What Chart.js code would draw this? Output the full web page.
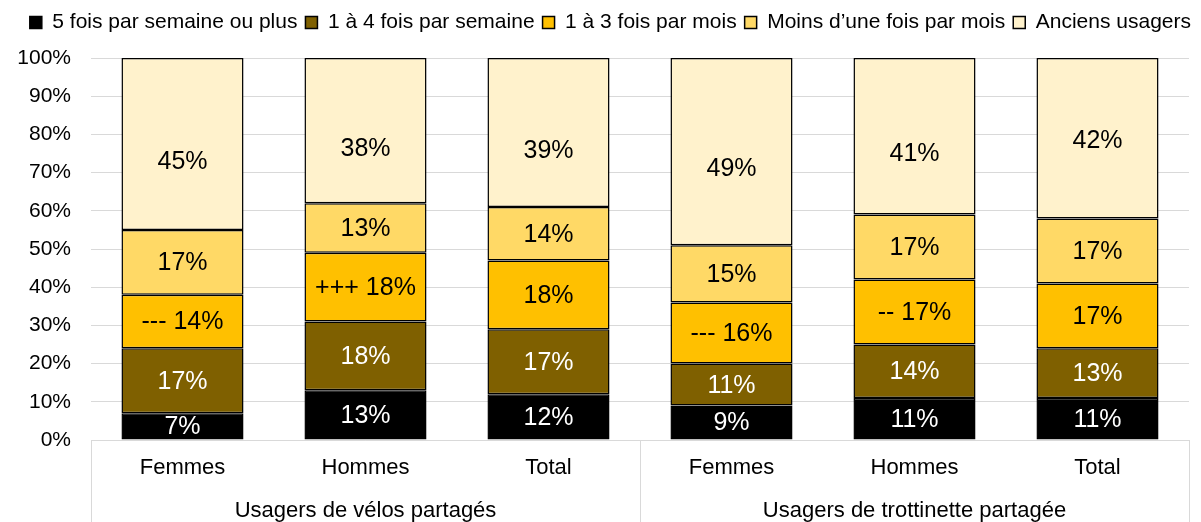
<!DOCTYPE html>
<html>
<head>
<meta charset="utf-8">
<script src="https://cdn.jsdelivr.net/npm/chart.js@4/dist/chart.umd.min.js"></script>
<style>
  html, body { margin: 0; padding: 0; background: #fff; }
  #wrap { width: 1201px; height: 522px; position: relative; }
</style>
</head>
<body>
<div id="wrap"><canvas id="chart"></canvas></div>
<script>
const categories = ["Femmes", "Hommes", "Total", "Femmes", "Hommes", "Total"];
const groups = ["Usagers de vélos partagés", "Usagers de trottinette partagée"];
const seriesNames = ["5 fois par semaine ou plus", "1 à 4 fois par semaine", "1 à 3 fois par mois", "Moins d’une fois par mois", "Anciens usagers"];

const fivePlus = [7, 13, 12, 9, 11, 11];
const oneToFourWeek = [17, 18, 17, 11, 14, 13];
const oneToThreeMonth = [14, 18, 18, 16, 17, 17];
const lessThanMonthly = [17, 13, 14, 15, 17, 17];
const former = [45, 38, 39, 49, 41, 42];

// significance marks shown before some values
const monthPrefix = ["---", "+++", "", "---", "--", ""];

const yTicks = [0, 10, 20, 30, 40, 50, 60, 70, 80, 90, 100];

const colors = ["#000000", "#7F6000", "#FFC000", "#FFD966", "#FFF2CC"];
const labelColors = ["#ffffff", "#ffffff", "#000000", "#000000", "#000000"];
const allSeries = [fivePlus, oneToFourWeek, oneToThreeMonth, lessThanMonthly, former];
const prefixes = [null, null, monthPrefix, null, null];
// in the source the labels of the top segment sit a bit below the middle
const topLabelShift = [17, 18, 18, 17, 17, 2];

const FONT = "'Liberation Sans', Arial, sans-serif";

const datasets = allSeries.map((vals, i) => ({
  label: seriesNames[i],
  data: vals,
  backgroundColor: colors[i],
  borderColor: "#000000",
  borderWidth: 1.5,
  borderSkipped: false,
  categoryPercentage: 1,
  barPercentage: 0.667
}));

// draw value labels in the middle of each segment
const valueLabels = {
  id: "valueLabels",
  afterDatasetsDraw(chart) {
    const ctx = chart.ctx;
    const last = chart.data.datasets.length - 1;
    ctx.save();
    ctx.font = "25px " + FONT;
    ctx.textAlign = "center";
    ctx.textBaseline = "middle";
    chart.data.datasets.forEach((ds, i) => {
      const meta = chart.getDatasetMeta(i);
      meta.data.forEach((bar, j) => {
        let txt = ds.data[j] + "%";
        if (prefixes[i] && prefixes[i][j]) txt = prefixes[i][j] + " " + txt;
        const shift = i === last ? topLabelShift[j] : 0;
        ctx.fillStyle = labelColors[i];
        ctx.fillText(txt, bar.x, (bar.y + bar.base) / 2 + 1 + shift);
      });
    });
    ctx.restore();
  }
};

// vertical separators of the two-level category axis
const groupLines = {
  id: "groupLines",
  afterDraw(chart) {
    const x = chart.scales.x;
    const ctx = chart.ctx;
    const mid = (x.getPixelForValue(2) + x.getPixelForValue(3)) / 2;
    ctx.save();
    ctx.strokeStyle = "#d9d9d9";
    ctx.lineWidth = 1;
    [x.left, mid, x.right].forEach(px => {
      ctx.beginPath();
      ctx.moveTo(Math.round(px) + 0.5, chart.chartArea.bottom);
      ctx.lineTo(Math.round(px) + 0.5, chart.height);
      ctx.stroke();
    });
    ctx.restore();
  }
};

// extra room under the legend, and push it a little to the right
const legendGap = {
  id: "legendGap",
  beforeInit(chart) {
    const lg = chart.legend;
    const fit = lg.fit;
    const draw = lg.draw;
    lg.fit = function () {
      fit.call(lg);
      lg.height += 15;
    };
    lg.draw = function () {
      chart.ctx.save();
      chart.ctx.translate(10, 0);
      draw.call(lg);
      chart.ctx.restore();
    };
  }
};

new Chart(document.getElementById("chart"), {
  type: "bar",
  data: { labels: categories, datasets },
  plugins: [valueLabels, groupLines, legendGap],
  options: {
    responsive: true,
    maintainAspectRatio: false,
    animation: false,
    layout: { padding: { left: 8, right: 12, top: 4, bottom: 0 } },
    plugins: {
      tooltip: { enabled: false },
      legend: {
        position: "top",
        align: "end",
        labels: {
          color: "#000",
          font: { family: FONT, size: 21, lineHeight: 1 },
          boxWidth: 12,
          boxHeight: 12,
          padding: 8
        }
      }
    },
    scales: {
      x: {
        stacked: true,
        grid: { display: false, drawTicks: false },
        border: { color: "#d9d9d9" },
        ticks: {
          color: "#000",
          font: { family: FONT, size: 22, lineHeight: 1 },
          padding: 17,
          maxRotation: 0
        },
        afterFit(scale) { scale.height = 40; }
      },
      x2: {
        type: "category",
        labels: groups,
        position: "bottom",
        offset: true,
        grid: { display: false, drawTicks: false },
        border: { display: false },
        ticks: {
          color: "#000",
          font: { family: FONT, size: 22, lineHeight: 1 },
          padding: 20,
          maxRotation: 0
        },
        afterFit(scale) { scale.height = 42; }
      },
      y: {
        stacked: true,
        min: 0,
        max: 100,
        afterBuildTicks(scale) {
          scale.ticks = yTicks.map(v => ({ value: v }));
        },
        grid: { color: "#d9d9d9", drawTicks: false },
        border: { display: false },
        ticks: {
          color: "#000",
          font: { family: FONT, size: 21, lineHeight: 1 },
          padding: 20,
          callback: v => v + "%"
        },
        afterFit(scale) { scale.width = 83; }
      }
    }
  }
});
</script>
</body>
</html>
